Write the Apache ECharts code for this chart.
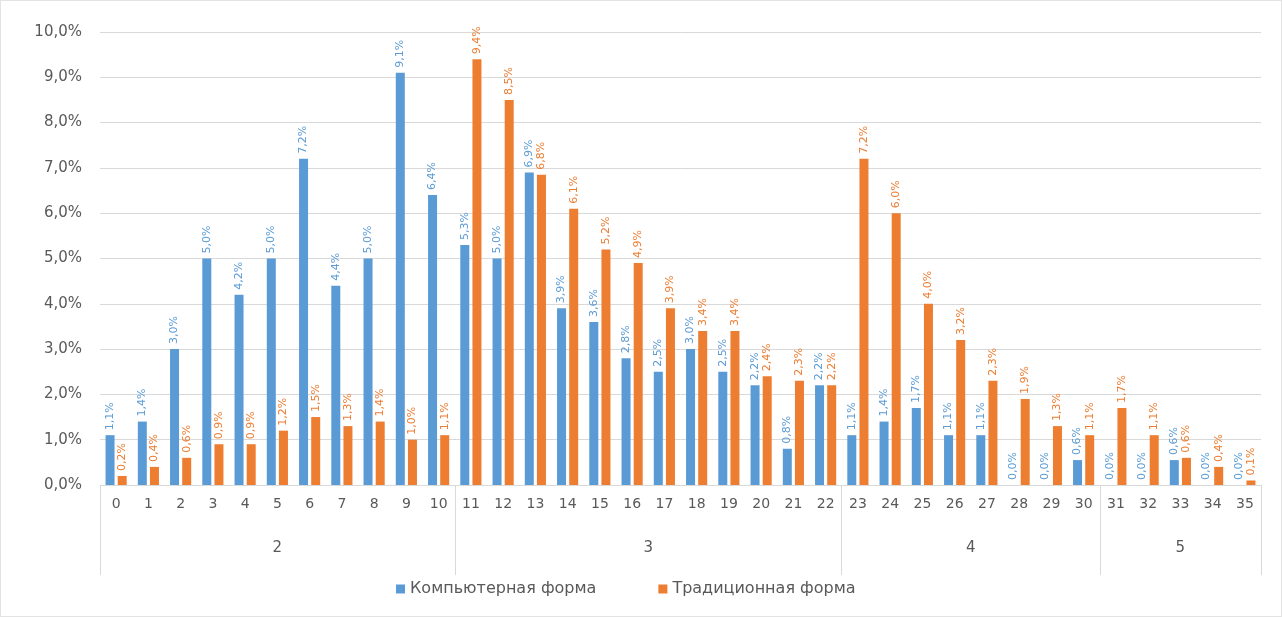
<!DOCTYPE html>
<html>
<head>
<meta charset="utf-8">
<script src="https://cdn.jsdelivr.net/npm/echarts@6/dist/echarts.min.js"></script>
<style>
  html, body { margin: 0; padding: 0; background: #fff; }
  #main { width: 1280px; height: 615px; border: 1px solid #e3e3e3; }
</style>
</head>
<body>
<div id="main"></div>
<script>
// данные с картинки
const categories = ['0','1','2','3','4','5','6','7','8','9','10','11','12','13','14','15','16','17',
  '18','19','20','21','22','23','24','25','26','27','28','29','30','31','32','33','34','35']
const computerForm = [1.1, 1.4, 3.0, 5.0, 4.2, 5.0, 7.2, 4.4, 5.0, 9.1, 6.4, 5.3, 5.0, 6.9, 3.9, 3.6, 2.8, 2.5,
  3.0, 2.5, 2.2, 0.8, 2.2, 1.1, 1.4, 1.7, 1.1, 1.1, 0.0, 0.0, 0.55, 0.0, 0.0, 0.55, 0.0, 0.0]
const traditionalForm = [0.2, 0.4, 0.6, 0.9, 0.9, 1.2, 1.5, 1.3, 1.4, 1.0, 1.1, 9.4, 8.5, 6.85, 6.1, 5.2, 4.9, 3.9,
  3.4, 3.4, 2.4, 2.3, 2.2, 7.2, 6.0, 4.0, 3.2, 2.3, 1.9, 1.3, 1.1, 1.7, 1.1, 0.6, 0.4, 0.1]
const groupNames = ['2', '3', '4', '5']
const groupSizes = [11, 12, 8, 5]
const seriesNames = ['Компьютерная форма', 'Традиционная форма']

// границы и середины групп
const bounds = [-0.5]
const middles = []
let start = 0
groupSizes.forEach(n => {
  middles.push(start + (n - 1) / 2)
  start += n
  bounds.push(start - 0.5)
})

const pct = v => v.toFixed(1).replace('.', ',') + '%'
const textColor = '#595959'
const font = 'DejaVu Sans'

const barLabel = color => ({
  show: true,
  position: 'top',
  rotate: 90,
  align: 'left',
  verticalAlign: 'middle',
  distance: 5,
  fontSize: 11,
  fontFamily: font,
  color: color,
  formatter: p => pct(p.value)
})

const myChart = echarts.init(document.getElementById('main'))
myChart.setOption({
  animation: false,
  textStyle: { fontFamily: font },
  grid: { left: 99, right: 20, top: 31, bottom: 131 },
  legend: {
    bottom: 14,
    left: 390,
    itemWidth: 9,
    itemHeight: 9,
    itemGap: 62,
    icon: 'rect',
    textStyle: { fontSize: 16, color: textColor, fontFamily: font },
    data: seriesNames
  },
  xAxis: [{
    type: 'category',
    data: categories,
    axisLine: { lineStyle: { color: '#d9d9d9' } },
    axisTick: { show: false },
    axisLabel: { color: textColor, fontSize: 14, margin: 12, interval: 0 }
  }, {
    type: 'value',
    position: 'bottom',
    min: -0.5,
    max: 35.5,
    axisLine: { show: false },
    splitLine: { show: false },
    axisTick: {
      show: true,
      customValues: bounds,
      length: 90,
      lineStyle: { color: '#d9d9d9' }
    },
    axisLabel: {
      customValues: middles,
      margin: 56,
      color: textColor,
      fontSize: 15,
      formatter: v => groupNames[middles.indexOf(v)]
    }
  }],
  yAxis: {
    type: 'value',
    min: 0,
    max: 10,
    interval: 1,
    axisLine: { show: false },
    axisTick: { show: false },
    splitLine: { lineStyle: { color: '#d9d9d9' } },
    axisLabel: { color: textColor, fontSize: 15, margin: 18, formatter: v => pct(v) }
  },
  series: [{
    name: seriesNames[0],
    type: 'bar',
    data: computerForm,
    barWidth: 9,
    barGap: '35%',
    itemStyle: { color: '#5b9bd5' },
    label: barLabel('#5b9bd5')
  }, {
    name: seriesNames[1],
    type: 'bar',
    data: traditionalForm,
    barWidth: 9,
    itemStyle: { color: '#ed7d31' },
    label: barLabel('#ed7d31')
  }]
})
</script>
</body>
</html>
